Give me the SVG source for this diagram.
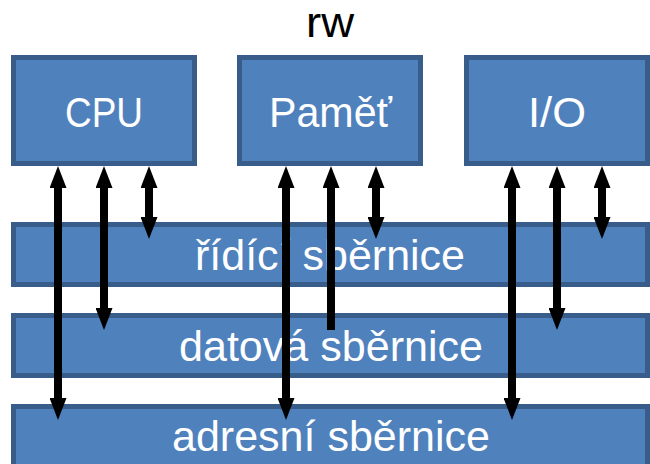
<svg xmlns="http://www.w3.org/2000/svg" width="650" height="464" viewBox="0 0 650 464">
<style>
.box{fill:#4F81BD;stroke:#385D8A;stroke-width:5}
.lbl{fill:#FFFFFF;font-family:"Liberation Sans",Arial,sans-serif;font-size:42px;text-anchor:middle}
.title{fill:#000000;font-family:"Liberation Sans",Arial,sans-serif;font-size:42px;text-anchor:middle}
.ar{stroke:#000000;stroke-width:8;fill:none}
</style>
<defs>
<marker id="ah" markerUnits="userSpaceOnUse" markerWidth="22" markerHeight="17" refX="10" refY="8.5" orient="auto-start-reverse" viewBox="0 0 22 17">
<path d="M0,0 L22,8.5 L0,17 Z" fill="#000000"/>
</marker>
</defs>
<text class="title" x="330" y="37" textLength="48" lengthAdjust="spacingAndGlyphs">rw</text>
<g id="bus-ridici"><rect class="box" x="13.5" y="224.5" width="634" height="60"/><text class="lbl" x="330" y="270" textLength="270" lengthAdjust="spacingAndGlyphs">řídící sběrnice</text></g>
<g id="bus-datova"><rect class="box" x="13.5" y="315.5" width="634" height="60"/><text class="lbl" x="331" y="361" textLength="304" lengthAdjust="spacingAndGlyphs">datová sběrnice</text></g>
<g id="bus-adresni"><rect class="box" x="13.5" y="406.5" width="634" height="60"/><text class="lbl" x="331" y="451" textLength="318" lengthAdjust="spacingAndGlyphs">adresní sběrnice</text></g>
<g id="cpu"><rect class="box" x="13.5" y="57.5" width="181" height="106"/><text class="lbl" x="104" y="127" textLength="78" lengthAdjust="spacingAndGlyphs">CPU</text></g>
<g id="pamet"><rect class="box" x="239.5" y="57.5" width="181" height="106"/><text class="lbl" x="330.5" y="127" textLength="123" lengthAdjust="spacingAndGlyphs">Paměť</text></g>
<g id="io"><rect class="box" x="466.5" y="57.5" width="181" height="106"/><text class="lbl" x="557" y="127" textLength="58" lengthAdjust="spacingAndGlyphs">I/O</text></g>
<g id="connectors">
<line class="ar" x1="58" y1="178" x2="58" y2="408" marker-start="url(#ah)" marker-end="url(#ah)"/>
<line class="ar" x1="104" y1="178" x2="104" y2="318" marker-start="url(#ah)" marker-end="url(#ah)"/>
<line class="ar" x1="149" y1="178" x2="149" y2="227" marker-start="url(#ah)" marker-end="url(#ah)"/>
<line class="ar" x1="286" y1="178" x2="286" y2="408" marker-start="url(#ah)" marker-end="url(#ah)"/>
<line class="ar" x1="331" y1="178" x2="331" y2="330" marker-start="url(#ah)"/>
<line class="ar" x1="376" y1="178" x2="376" y2="227" marker-start="url(#ah)" marker-end="url(#ah)"/>
<line class="ar" x1="512" y1="178" x2="512" y2="408" marker-start="url(#ah)" marker-end="url(#ah)"/>
<line class="ar" x1="557" y1="178" x2="557" y2="318" marker-start="url(#ah)" marker-end="url(#ah)"/>
<line class="ar" x1="602" y1="178" x2="602" y2="227" marker-start="url(#ah)" marker-end="url(#ah)"/>
</g>
</svg>
